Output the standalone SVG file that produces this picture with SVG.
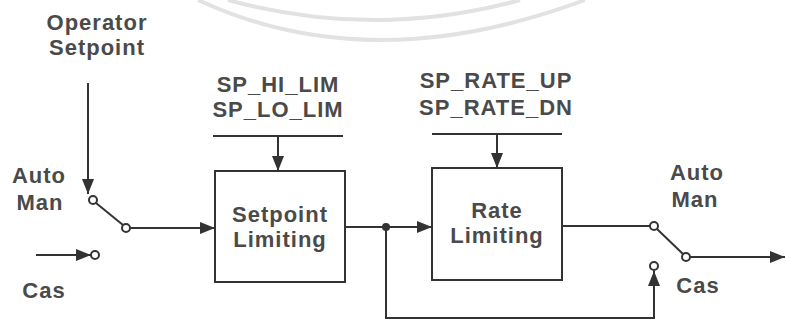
<svg xmlns="http://www.w3.org/2000/svg" width="785" height="320" viewBox="0 0 785 320">
<style>
text{font-family:"Liberation Sans",Arial,sans-serif;font-weight:bold;font-size:22px;fill:#4a4a4a;text-anchor:middle;letter-spacing:1px}
.ln{stroke:#333;stroke-width:2;fill:none}
.box{stroke:#333;stroke-width:2;fill:#fff}
.pin{stroke:#333;stroke-width:2;fill:#fff}
.wm{stroke:#e2e2e2;stroke-width:4;fill:none}
</style>
<defs>
<marker id="ah" markerUnits="userSpaceOnUse" markerWidth="16" markerHeight="12" refX="15" refY="6" orient="auto">
<path d="M0,0 L15,6 L0,12 z" fill="#333"/>
</marker>
</defs>
<g id="watermark">
<path class="wm" d="M198,0 Q370,80 585,0"/>
<path class="wm" d="M228,0 Q375,40 520,0"/>
</g>
<g id="connectors">
<path class="ln" d="M88,83 V194" marker-end="url(#ah)"/>
<path class="ln" d="M130,228 H215" marker-end="url(#ah)"/>
<path class="ln" d="M36,255 H91" marker-end="url(#ah)"/>
<path class="ln" d="M213,136 H343"/>
<path class="ln" d="M278,136 V171" marker-end="url(#ah)"/>
<path class="ln" d="M345,227 H432" marker-end="url(#ah)"/>
<path class="ln" d="M432,134 H562"/>
<path class="ln" d="M497,134 V168" marker-end="url(#ah)"/>
<path class="ln" d="M562,226 H650"/>
<path class="ln" d="M690,257 H785" marker-end="url(#ah)"/>
<path class="ln" d="M386,227 V318 H654 V271" marker-end="url(#ah)"/>
<circle cx="386" cy="227" r="4" fill="#333"/>
</g>
<g id="operator-setpoint">
<text x="97" y="30">Operator</text>
<text x="97" y="55">Setpoint</text>
</g>
<g id="switch-in">
<text x="39" y="183">Auto</text>
<text x="40" y="210">Man</text>
<text x="44" y="298">Cas</text>
<path class="ln" d="M96,203 L123,225"/>
<circle class="pin" cx="93" cy="200" r="4"/>
<circle class="pin" cx="126" cy="228" r="4"/>
<circle class="pin" cx="95" cy="255" r="4"/>
</g>
<g id="sp-limits">
<text x="278" y="92">SP_HI_LIM</text>
<text x="278" y="117">SP_LO_LIM</text>
</g>
<g id="setpoint-limiting">
<rect class="box" x="215" y="171" width="130" height="111"/>
<text x="280" y="222">Setpoint</text>
<text x="280" y="247">Limiting</text>
</g>
<g id="rate-params">
<text x="496" y="88">SP_RATE_UP</text>
<text x="496" y="115">SP_RATE_DN</text>
</g>
<g id="rate-limiting">
<rect class="box" x="432" y="168" width="130" height="112"/>
<text x="497" y="218">Rate</text>
<text x="497" y="243">Limiting</text>
</g>
<g id="switch-out">
<text x="697" y="180">Auto</text>
<text x="695" y="207">Man</text>
<text x="698" y="293">Cas</text>
<path class="ln" d="M657,229 L683,254"/>
<circle class="pin" cx="654" cy="226" r="4"/>
<circle class="pin" cx="686" cy="257" r="4"/>
<circle class="pin" cx="654" cy="266" r="4"/>
</g>
</svg>
